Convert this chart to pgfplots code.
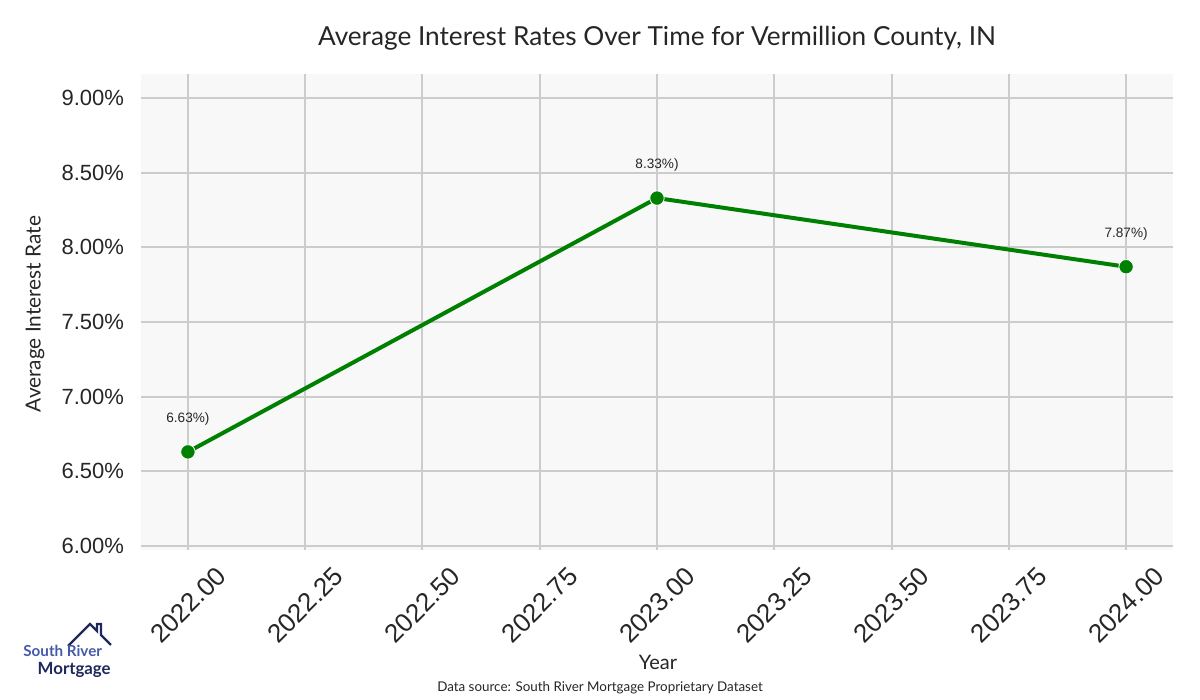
\documentclass[border=0pt]{standalone}
\usepackage{fontspec}
\setmainfont{Liberation Sans}
\newfontfamily\labfont{Lato}
\usepackage{pgfplots}
\pgfplotsset{compat=1.18}
\definecolor{gridgray}{RGB}{204,204,204}
\definecolor{bggray}{RGB}{248,248,248}
\definecolor{linegreen}{RGB}{0,128,0}
\definecolor{logoblue}{RGB}{70,88,170}
\definecolor{logonavy}{RGB}{30,40,90}

\begin{document}
\begin{tikzpicture}[x=1pt,y=1pt]
\useasboundingbox (0,0) rectangle (600,350);
\begin{axis}[
    at={(70.5pt,75pt)}, anchor=south west,
    scale only axis,
    width=516pt, height=238pt,
    xmin=2021.9, xmax=2024.1,
    ymin=5.973, ymax=9.161,
    axis line style={draw=none},
    axis background/.style={fill=bggray},
    grid=major,
    major grid style={draw=gridgray, line width=1pt},
    major tick length=0pt,
    xtick={2022,2022.25,2022.5,2022.75,2023,2023.25,2023.5,2023.75,2024},
    ytick={6,6.5,7,7.5,8,8.5,9},
    /pgf/number format/assume math mode=true,
    xticklabel={\pgfmathprintnumber[fixed,fixed zerofill,precision=2,1000 sep={}]{\tick}},
    yticklabel={\pgfmathprintnumber[fixed,fixed zerofill,precision=2]{\tick}\%},
    xticklabel style={font=\fontsize{13}{15}\selectfont, text=black!85, anchor=center, yshift=-27.5pt, rotate=45},
    yticklabel style={font=\fontsize{11}{13}\selectfont, text=black!85, anchor=east, xshift=-5pt},
    nodes near coords={\pgfmathprintnumber[fixed,fixed zerofill,precision=2]{\pgfplotspointmeta}\%)},
    point meta=y,
    every node near coord/.append style={font=\fontsize{6.8}{8}\selectfont, text=black!85, anchor=center, yshift=16.5pt},
    clip=false,
]
\addplot[color=linegreen, line width=2pt, mark=*, mark size=3.6pt,
    mark options={fill=linegreen, draw=white, line width=0.4pt}]
    coordinates {(2022,6.63) (2023,8.33) (2024,7.87)};
\end{axis}
\node[font=\labfont\fontsize{13.1}{15}\selectfont, text=black!85] at (328.5,331) {Average Interest Rates Over Time for Vermillion County, IN};
\node[font=\labfont\fontsize{10}{12}\selectfont, text=black!85] at (329,19) {Year};
\node[font=\labfont\fontsize{10.4}{12}\selectfont, text=black!85, rotate=90] at (17.5,193) {Average Interest Rate};
\node[font=\labfont\fontsize{6.7}{8}\selectfont, text=black!85] at (300,6) {Data source: South River Mortgage Proprietary Dataset};
% logo
\draw[logonavy, line width=1.2pt, line join=miter] (34,27) -- (45,38) -- (48.5,34.5) -- (48.5,38) -- (50.5,38) -- (50.5,32.5) -- (55.5,27.5);
\node[font=\labfont\bfseries\fontsize{7.6}{8}\selectfont, text=logoblue, anchor=base west, inner sep=0pt] at (11.5,21.5) {South River};
\node[font=\labfont\bfseries\fontsize{8.4}{9}\selectfont, text=logonavy, anchor=base east, inner sep=0pt] at (55.5,12.5) {Mortgage};
\end{tikzpicture}
\end{document}
